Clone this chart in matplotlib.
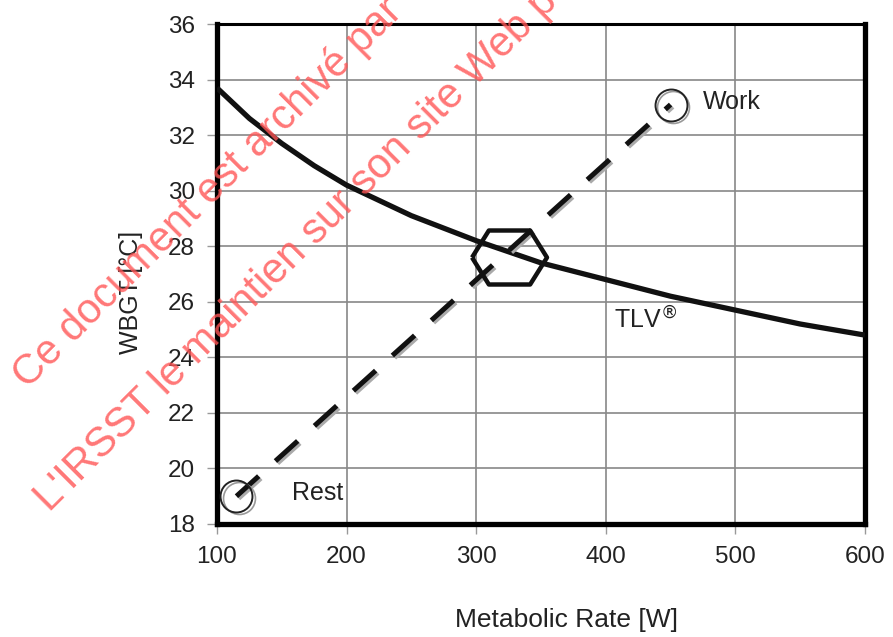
import numpy as np
import matplotlib.pyplot as plt
from matplotlib import transforms

plt.rcParams['font.family'] = ['Liberation Sans', 'DejaVu Sans']

# TLV curve
rate = [100, 125, 150, 175, 200, 250, 300, 350, 400, 450, 500, 550, 600]
tlv = [33.7, 32.6, 31.7, 30.9, 30.2, 29.1, 28.2, 27.4, 26.8, 26.2, 25.7, 25.2, 24.8]

# rest / work / time-weighted point
rest = (115, 19.0)
work = (450, 33.1)
twa = (325, 27.6)

xticks = [100, 200, 300, 400, 500, 600]
yticks = [18, 20, 22, 24, 26, 28, 30, 32, 34, 36]

fig = plt.figure(figsize=(8.93, 6.37), dpi=100)
ax = fig.add_axes([0.243, 0.1774, 0.7256, 0.7849])

ax.set_xlim(100, 600)
ax.set_ylim(18, 36)
ax.set_xticks(xticks)
ax.set_yticks(yticks)
ax.grid(True, color='#888888', lw=1.2)
ax.set_axisbelow(True)

for side in ['left', 'bottom', 'right']:
    ax.spines[side].set_linewidth(3.8)
ax.spines['top'].set_linewidth(2.2)
ax.tick_params(length=7, width=1, color='#999999', labelsize=17.5, pad=9,
               labelcolor='#222222')

# TLV line
ax.plot(rate, tlv, color='#111111', lw=3.8, solid_capstyle='butt', zorder=3)

# dashed rest -> work line with light shadow
shadow = transforms.offset_copy(ax.transData, fig=fig, x=1.5, y=-1.5, units='points')
ax.plot([rest[0], work[0]], [rest[1], work[1]], color='#aaaaaa', lw=3.6,
        dashes=(6, 4.5), transform=shadow, zorder=3)
ax.plot([rest[0], work[0]], [rest[1], work[1]], color='#111111', lw=3.6,
        dashes=(6, 4.5), zorder=4)

# circles
for p in [rest, work]:
    ax.plot(*p, marker='o', ms=23, mfc='none', mec='#999999', mew=1.2,
            transform=shadow, zorder=5)
    ax.plot(*p, marker='o', ms=23, mfc='none', mec='#222222', mew=1.4, zorder=5)

# hexagon (wider than tall)
hexa = [(-1, 0), (-0.55, 0.72), (0.55, 0.72), (1, 0), (0.55, -0.72), (-0.55, -0.72), (-1, 0)]
ax.plot(*twa, marker=hexa, ms=54, mfc='none', mec='#111111', mew=3.2, zorder=6)

ax.text(475, 33.2, 'Work', fontsize=18, va='center', ha='left', color='#222222')
ax.text(158, 19.1, 'Rest', fontsize=18, va='center', ha='left', color='#222222')
ax.text(406, 25.35, 'TLV$^{\u00ae}$', fontsize=18, va='center', ha='left', color='#222222')

ax.set_xlabel('Metabolic Rate [W]', fontsize=19, color='#222222')
ax.xaxis.set_label_coords(0.539, -0.168)
ax.set_ylabel('WBGT [\u00b0C]', fontsize=18, color='#222222')
ax.yaxis.set_label_coords(-0.114, 0.464)

# watermark
fig.text(28 / 893, 1 - 390 / 637, "Ce document est archivé par",
         fontsize=30, color='#ff5555', alpha=0.8, rotation=45,
         rotation_mode='anchor', ha='left', va='baseline', zorder=10)
fig.text(50 / 893, 1 - 513 / 637, "L'IRSST le maintien sur son site Web p",
         fontsize=30, color='#ff5555', alpha=0.8, rotation=45,
         rotation_mode='anchor', ha='left', va='baseline', zorder=10)

fig.savefig('out.png', dpi=100)
